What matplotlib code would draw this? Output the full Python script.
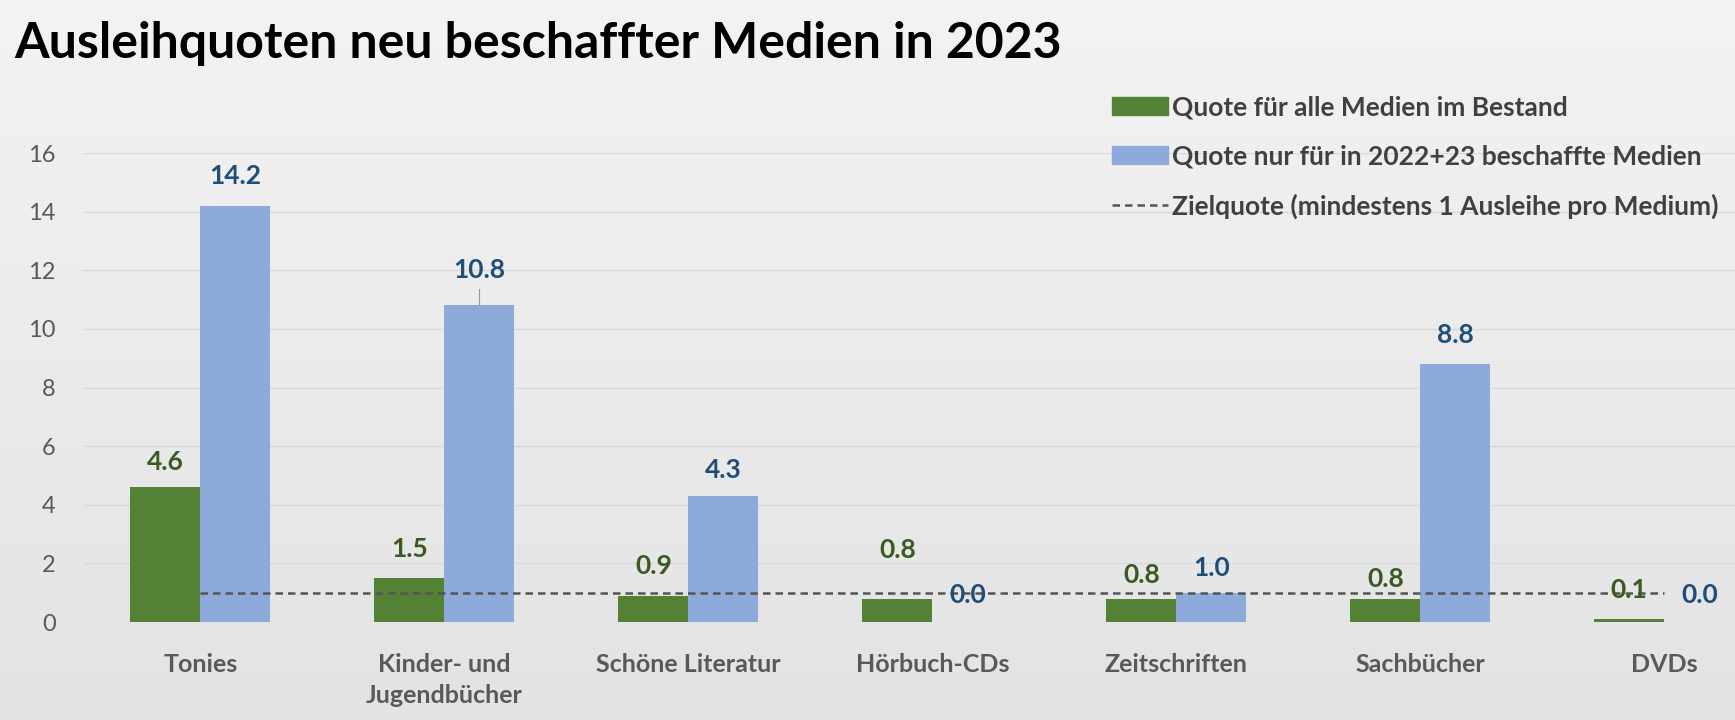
import numpy as np
import matplotlib.pyplot as plt
from matplotlib.patches import Patch
from matplotlib.lines import Line2D
from matplotlib.colors import LinearSegmentedColormap

# --- data ---
categories = ['Tonies', 'Kinder- und\nJugendbücher', 'Schöne Literatur', 'Hörbuch-CDs',
              'Zeitschriften', 'Sachbücher', 'DVDs']
quote_alle = [4.6, 1.5, 0.9, 0.8, 0.8, 0.8, 0.1]
quote_neu = [14.2, 10.8, 4.3, 0.0, 1.0, 8.8, 0.0]
zielquote = 1.0

# label offsets above bar tops (labels were hand-placed in the original)
off_alle = [0.85, 1.0, 1.0, 1.66, 0.8, 0.67, 1.0]
off_neu = [1.0, 1.2, 0.9, 0.92, 0.85, 1.0, 0.92]

plt.rcParams['font.family'] = ['Lato', 'DejaVu Sans']

green = '#548235'
blue = '#8eaadb'
green_txt = '#3a5a22'
blue_txt = '#1f4e79'
grey_txt = '#595959'

fig = plt.figure(figsize=(17.35, 7.2), dpi=100)

# background gradient
bg = fig.add_axes([0, 0, 1, 1], zorder=-10)
grad = np.linspace(0, 1, 256).reshape(-1, 1)
bg.imshow(grad, aspect='auto', cmap=LinearSegmentedColormap.from_list('bg', ['#f3f3f3', '#e3e3e3']),
          extent=[0, 1, 0, 1])
bg.axis('off')

ax = fig.add_axes([0.048, 0.136, 0.952, 0.6515])
ax.set_facecolor('none')

x = np.arange(len(categories))
w = 0.287
ax.bar(x - w / 2, quote_alle, w, color=green, zorder=3)
ax.bar(x + w / 2, quote_neu, w, color=blue, zorder=3)
ax.plot(x, [zielquote] * len(x), color='#555555', linestyle=(0, (3, 2)), linewidth=1.8, zorder=4)

for i in range(len(x)):
    ax.text(x[i] - w / 2, quote_alle[i] + off_alle[i], f'{quote_alle[i]:.1f}', ha='center', va='center',
            fontsize=19, fontweight='bold', color=green_txt, zorder=5)
    ax.text(x[i] + w / 2, quote_neu[i] + off_neu[i], f'{quote_neu[i]:.1f}', ha='center', va='center',
            fontsize=19, fontweight='bold', color=blue_txt, zorder=5)

# small leader line at the 10.8 label
ax.plot([1 + w / 2, 1 + w / 2], [quote_neu[1], quote_neu[1] + 0.55], color='#999999', lw=0.8, zorder=4)

ax.set_ylim(0, 16)
ax.set_xlim(-0.48, 6.29)
ax.set_yticks(np.arange(0, 17, 2))
ax.grid(axis='y', color='#d9d9d9', linewidth=1, zorder=0)
ax.set_xticks(x)
ax.set_xticklabels(categories, fontsize=18, fontweight='bold', color=grey_txt, linespacing=1.45)
ax.tick_params(axis='y', labelsize=17, colors=grey_txt, length=0, pad=20)
ax.tick_params(axis='x', length=0, pad=22)
for s in ax.spines.values():
    s.set_visible(False)

fig.text(0.008, 0.94, 'Ausleihquoten neu beschaffter Medien in 2023', fontsize=36, fontweight='bold',
         color='black', va='center', ha='left')

handles = [Patch(color=green), Patch(color=blue),
           Line2D([0], [0], color='#555555', linestyle=(0, (3, 2)), linewidth=1.8)]
labels = ['Quote für alle Medien im Bestand', 'Quote nur für in 2022+23 beschaffte Medien',
          'Zielquote (mindestens 1 Ausleihe pro Medium)']
leg = fig.legend(handles, labels, loc='upper left', bbox_to_anchor=(0.641, 0.868), frameon=False,
                 handlelength=2.1, handleheight=0.7, handletextpad=0.15, labelspacing=0.95,
                 borderaxespad=0, borderpad=0, prop={'weight': 'bold', 'size': 19})
for t in leg.get_texts():
    t.set_color('#404040')

fig.savefig('out.png', dpi=100, facecolor='#efefef')
